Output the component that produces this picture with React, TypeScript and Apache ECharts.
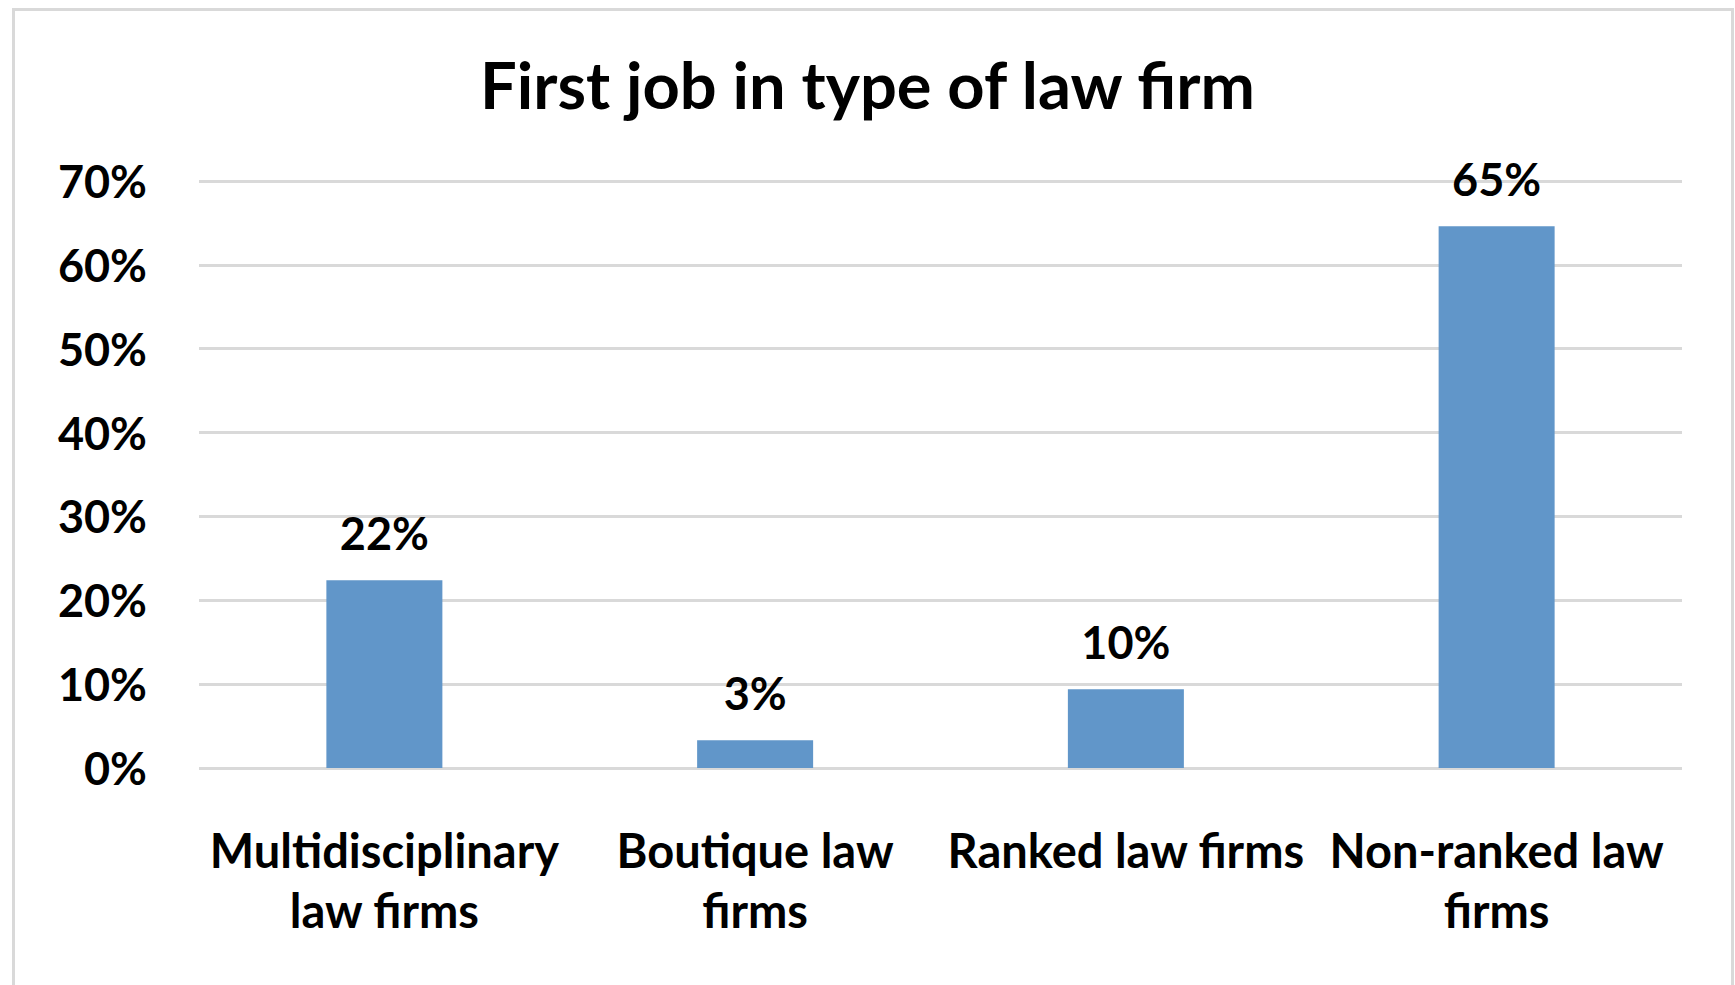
import React, { useEffect, useRef } from "react";
import * as echarts from "echarts";

const title = "First job in type of law firm";
const categories = [
  "Multidisciplinary\nlaw firms",
  "Boutique law\nfirms",
  "Ranked law firms",
  "Non-ranked law\nfirms",
];
const values = [22.4, 3.3, 9.4, 64.6];
const valueLabels = ["22%", "3%", "10%", "65%"];
const yMin = 0;
const yMax = 70;
const yInterval = 10;

const FONT = "Lato, 'Open Sans', sans-serif";

export default function App() {
  const ref = useRef<HTMLDivElement>(null);
  useEffect(() => {
    document.body.style.margin = "0";
    if (!ref.current) return;
    const chart = echarts.init(ref.current, undefined, { renderer: "svg" });
    chart.setOption({
      animation: false,
      backgroundColor: "#ffffff",
      title: {
        text: title,
        left: "center",
        top: 46,
        textStyle: {
          fontFamily: FONT,
          fontWeight: "bold",
          fontSize: 65,
          color: "#000000",
        },
      },
      graphic: [
        {
          type: "rect",
          left: 11,
          top: 7,
          shape: { width: 1719, height: 1000 },
          style: { fill: "none", stroke: "#d9d9d9", lineWidth: 3 },
          silent: true,
        },
      ],
      grid: { left: 199, right: 53, top: 181, bottom: 217, containLabel: false },
      xAxis: {
        type: "category",
        data: categories,
        axisLine: { show: false },
        axisTick: { show: false },
        axisLabel: {
          interval: 0,
          margin: 52,
          fontFamily: FONT,
          fontWeight: "bold",
          fontSize: 47,
          lineHeight: 60,
          color: "#000000",
        },
      },
      yAxis: {
        type: "value",
        min: yMin,
        max: yMax,
        interval: yInterval,
        axisLine: { show: false },
        axisTick: { show: false },
        splitLine: { show: true, lineStyle: { color: "#d9d9d9", width: 3 } },
        axisLabel: {
          margin: 52,
          formatter: "{value}%",
          fontFamily: FONT,
          fontWeight: "bold",
          fontSize: 45,
          color: "#000000",
          padding: [8, 0, 0, 0],
        },
      },
      series: [
        {
          type: "bar",
          data: values,
          barWidth: 116,
          itemStyle: { color: "#6196c9" },
          label: {
            show: true,
            position: "top",
            distance: 25,
            formatter: (p: any) => valueLabels[p.dataIndex],
            fontFamily: FONT,
            fontWeight: "bold",
            fontSize: 45,
            color: "#000000",
          },
        },
      ],
    });
    return () => chart.dispose();
  }, []);
  return <div ref={ref} style={{ width: 1735, height: 985 }} />;
}
